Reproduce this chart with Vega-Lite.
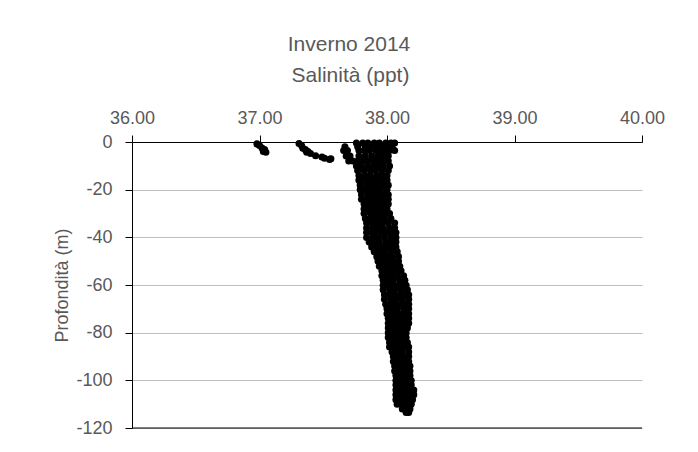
{
"$schema": "https://vega.github.io/schema/vega-lite/v6.json",
"width": 510, "height": 286,
"autosize": {"type": "none"},
"padding": {"left": 132, "top": 142, "right": 56, "bottom": 24},
"background": "white",
"config": {"view": {"stroke": null}, "font": "Liberation Sans, Arial, sans-serif"},
"title": {"text": "Inverno 2014", "fontSize": 21, "fontWeight": "normal", "color": "#595959", "anchor": "middle", "dx": -38, "offset": -8, "baseline": "alphabetic"},
"data": {"values": [
{"sal":36.98,"depth":-0.8},{"sal":37.00,"depth":-1.5},{"sal":37.02,"depth":-2.5},{"sal":37.04,"depth":-3.2},{"sal":37.05,"depth":-4.3},{"sal":37.03,"depth":-4.0},
{"sal":37.31,"depth":-0.6},{"sal":37.33,"depth":-1.5},{"sal":37.34,"depth":-2.6},{"sal":37.36,"depth":-3.2},{"sal":37.38,"depth":-4.0},{"sal":37.40,"depth":-4.8},{"sal":37.37,"depth":-4.3},{"sal":37.44,"depth":-5.8},{"sal":37.49,"depth":-6.3},{"sal":37.51,"depth":-6.8},{"sal":37.55,"depth":-7.3},{"sal":37.56,"depth":-7.0},
{"sal":37.76,"depth":-0.4},{"sal":37.81,"depth":-0.4},{"sal":37.85,"depth":-0.4},{"sal":37.90,"depth":-0.4},{"sal":37.94,"depth":-0.4},{"sal":37.99,"depth":-0.4},{"sal":38.03,"depth":-0.4},{"sal":38.06,"depth":-0.4},
{"sal":37.67,"depth":-2.0},{"sal":37.77,"depth":-2.0},{"sal":37.83,"depth":-2.0},{"sal":37.87,"depth":-2.0},{"sal":37.92,"depth":-2.0},{"sal":37.96,"depth":-2.0},{"sal":38.01,"depth":-2.0},{"sal":38.04,"depth":-2.0},
{"sal":37.66,"depth":-3.6},{"sal":37.69,"depth":-3.6},{"sal":37.78,"depth":-3.6},{"sal":37.82,"depth":-3.6},{"sal":37.86,"depth":-3.6},{"sal":37.91,"depth":-3.6},{"sal":37.95,"depth":-3.6},{"sal":37.99,"depth":-3.6},{"sal":38.02,"depth":-3.6},{"sal":38.06,"depth":-3.6},
{"sal":37.68,"depth":-5.9},{"sal":37.71,"depth":-5.9},{"sal":37.78,"depth":-5.9},{"sal":37.83,"depth":-5.9},{"sal":37.88,"depth":-5.9},{"sal":37.93,"depth":-5.9},{"sal":37.97,"depth":-5.9},{"sal":38.01,"depth":-5.9},
{"sal":37.70,"depth":-8.0},{"sal":37.73,"depth":-8.0},{"sal":37.77,"depth":-8.0},{"sal":37.81,"depth":-8.0},{"sal":37.85,"depth":-8.0},{"sal":37.90,"depth":-8.0},{"sal":37.94,"depth":-8.0},{"sal":37.98,"depth":-8.0},{"sal":38.01,"depth":-8.0},
{"sal":37.76,"depth":-10.1},{"sal":37.80,"depth":-10.1},{"sal":37.85,"depth":-10.1},{"sal":37.89,"depth":-10.1},{"sal":37.93,"depth":-10.1},{"sal":37.97,"depth":-10.1},{"sal":38.02,"depth":-10.1},
{"sal":37.77,"depth":-12.0},{"sal":37.82,"depth":-12.0},{"sal":37.87,"depth":-12.0},{"sal":37.91,"depth":-12.0},{"sal":37.96,"depth":-12.0},{"sal":38.01,"depth":-12.0},
{"sal":37.78,"depth":-14.1},{"sal":37.83,"depth":-14.1},{"sal":37.87,"depth":-14.1},{"sal":37.92,"depth":-14.1},{"sal":37.96,"depth":-14.1},{"sal":38.00,"depth":-14.1},
{"sal":37.78,"depth":-16.0},{"sal":37.82,"depth":-16.0},{"sal":37.86,"depth":-16.0},{"sal":37.90,"depth":-16.0},{"sal":37.94,"depth":-16.0},{"sal":37.98,"depth":-16.0},{"sal":38.00,"depth":-16.0},
{"sal":37.79,"depth":-18.1},{"sal":37.84,"depth":-18.1},{"sal":37.88,"depth":-18.1},{"sal":37.93,"depth":-18.1},{"sal":37.97,"depth":-18.1},{"sal":38.01,"depth":-18.1},
{"sal":37.79,"depth":-20.0},{"sal":37.83,"depth":-20.0},{"sal":37.87,"depth":-20.0},{"sal":37.91,"depth":-20.0},{"sal":37.95,"depth":-20.0},{"sal":38.00,"depth":-20.0},
{"sal":37.80,"depth":-22.1},{"sal":37.85,"depth":-22.1},{"sal":37.89,"depth":-22.1},{"sal":37.93,"depth":-22.1},{"sal":37.97,"depth":-22.1},{"sal":38.01,"depth":-22.1},
{"sal":37.80,"depth":-24.0},{"sal":37.84,"depth":-24.0},{"sal":37.88,"depth":-24.0},{"sal":37.92,"depth":-24.0},{"sal":37.96,"depth":-24.0},{"sal":38.01,"depth":-24.0},
{"sal":37.82,"depth":-26.0},{"sal":37.86,"depth":-26.0},{"sal":37.90,"depth":-26.0},{"sal":37.94,"depth":-26.0},{"sal":37.98,"depth":-26.0},{"sal":38.01,"depth":-26.0},
{"sal":37.82,"depth":-28.1},{"sal":37.86,"depth":-28.1},{"sal":37.89,"depth":-28.1},{"sal":37.93,"depth":-28.1},{"sal":37.96,"depth":-28.1},{"sal":38.00,"depth":-28.1},
{"sal":37.82,"depth":-30.0},{"sal":37.87,"depth":-30.0},{"sal":37.91,"depth":-30.0},{"sal":37.95,"depth":-30.0},{"sal":37.99,"depth":-30.0},{"sal":38.02,"depth":-30.0},
{"sal":37.83,"depth":-32.1},{"sal":37.87,"depth":-32.1},{"sal":37.90,"depth":-32.1},{"sal":37.94,"depth":-32.1},{"sal":37.98,"depth":-32.1},{"sal":38.03,"depth":-32.1},
{"sal":37.84,"depth":-34.0},{"sal":37.88,"depth":-34.0},{"sal":37.92,"depth":-34.0},{"sal":37.96,"depth":-34.0},{"sal":38.01,"depth":-34.0},{"sal":38.06,"depth":-34.0},
{"sal":37.84,"depth":-36.1},{"sal":37.89,"depth":-36.1},{"sal":37.93,"depth":-36.1},{"sal":37.97,"depth":-36.1},{"sal":38.02,"depth":-36.1},{"sal":38.06,"depth":-36.1},
{"sal":37.84,"depth":-38.0},{"sal":37.88,"depth":-38.0},{"sal":37.91,"depth":-38.0},{"sal":37.96,"depth":-38.0},{"sal":38.00,"depth":-38.0},{"sal":38.04,"depth":-38.0},{"sal":38.07,"depth":-38.0},
{"sal":37.84,"depth":-40.1},{"sal":37.89,"depth":-40.1},{"sal":37.93,"depth":-40.1},{"sal":37.98,"depth":-40.1},{"sal":38.03,"depth":-40.1},{"sal":38.07,"depth":-40.1},
{"sal":37.86,"depth":-42.0},{"sal":37.90,"depth":-42.0},{"sal":37.94,"depth":-42.0},{"sal":37.99,"depth":-42.0},{"sal":38.03,"depth":-42.0},{"sal":38.07,"depth":-42.0},
{"sal":37.88,"depth":-44.1},{"sal":37.92,"depth":-44.1},{"sal":37.96,"depth":-44.1},{"sal":38.00,"depth":-44.1},{"sal":38.04,"depth":-44.1},{"sal":38.07,"depth":-44.1},
{"sal":37.90,"depth":-46.0},{"sal":37.94,"depth":-46.0},{"sal":37.98,"depth":-46.0},{"sal":38.03,"depth":-46.0},{"sal":38.08,"depth":-46.0},
{"sal":37.92,"depth":-48.1},{"sal":37.96,"depth":-48.1},{"sal":38.00,"depth":-48.1},{"sal":38.04,"depth":-48.1},{"sal":38.09,"depth":-48.1},
{"sal":37.93,"depth":-50.0},{"sal":37.97,"depth":-50.0},{"sal":38.01,"depth":-50.0},{"sal":38.05,"depth":-50.0},{"sal":38.09,"depth":-50.0},
{"sal":37.94,"depth":-52.1},{"sal":37.98,"depth":-52.1},{"sal":38.02,"depth":-52.1},{"sal":38.06,"depth":-52.1},{"sal":38.10,"depth":-52.1},
{"sal":37.96,"depth":-54.0},{"sal":38.00,"depth":-54.0},{"sal":38.04,"depth":-54.0},{"sal":38.08,"depth":-54.0},{"sal":38.11,"depth":-54.0},
{"sal":37.96,"depth":-56.1},{"sal":38.00,"depth":-56.1},{"sal":38.04,"depth":-56.1},{"sal":38.08,"depth":-56.1},{"sal":38.13,"depth":-56.1},
{"sal":37.97,"depth":-58.0},{"sal":38.01,"depth":-58.0},{"sal":38.05,"depth":-58.0},{"sal":38.10,"depth":-58.0},{"sal":38.14,"depth":-58.0},
{"sal":37.97,"depth":-60.1},{"sal":38.01,"depth":-60.1},{"sal":38.05,"depth":-60.1},{"sal":38.09,"depth":-60.1},{"sal":38.13,"depth":-60.1},{"sal":38.15,"depth":-60.1},
{"sal":37.97,"depth":-62.0},{"sal":38.02,"depth":-62.0},{"sal":38.06,"depth":-62.0},{"sal":38.11,"depth":-62.0},{"sal":38.16,"depth":-62.0},
{"sal":37.98,"depth":-64.1},{"sal":38.02,"depth":-64.1},{"sal":38.06,"depth":-64.1},{"sal":38.10,"depth":-64.1},{"sal":38.14,"depth":-64.1},{"sal":38.17,"depth":-64.1},
{"sal":37.98,"depth":-66.0},{"sal":38.03,"depth":-66.0},{"sal":38.07,"depth":-66.0},{"sal":38.12,"depth":-66.0},{"sal":38.17,"depth":-66.0},
{"sal":37.99,"depth":-68.1},{"sal":38.03,"depth":-68.1},{"sal":38.07,"depth":-68.1},{"sal":38.11,"depth":-68.1},{"sal":38.15,"depth":-68.1},{"sal":38.17,"depth":-68.1},
{"sal":38.00,"depth":-70.0},{"sal":38.04,"depth":-70.0},{"sal":38.08,"depth":-70.0},{"sal":38.13,"depth":-70.0},{"sal":38.17,"depth":-70.0},
{"sal":38.00,"depth":-72.1},{"sal":38.04,"depth":-72.1},{"sal":38.08,"depth":-72.1},{"sal":38.12,"depth":-72.1},{"sal":38.15,"depth":-72.1},{"sal":38.17,"depth":-72.1},
{"sal":38.01,"depth":-74.0},{"sal":38.05,"depth":-74.0},{"sal":38.09,"depth":-74.0},{"sal":38.13,"depth":-74.0},{"sal":38.17,"depth":-74.0},
{"sal":38.01,"depth":-76.1},{"sal":38.05,"depth":-76.1},{"sal":38.09,"depth":-76.1},{"sal":38.13,"depth":-76.1},{"sal":38.17,"depth":-76.1},
{"sal":38.01,"depth":-78.0},{"sal":38.05,"depth":-78.0},{"sal":38.09,"depth":-78.0},{"sal":38.13,"depth":-78.0},{"sal":38.16,"depth":-78.0},
{"sal":38.01,"depth":-80.1},{"sal":38.05,"depth":-80.1},{"sal":38.09,"depth":-80.1},{"sal":38.12,"depth":-80.1},{"sal":38.15,"depth":-80.1},
{"sal":38.01,"depth":-82.0},{"sal":38.05,"depth":-82.0},{"sal":38.09,"depth":-82.0},{"sal":38.13,"depth":-82.0},{"sal":38.15,"depth":-82.0},
{"sal":38.02,"depth":-84.1},{"sal":38.06,"depth":-84.1},{"sal":38.10,"depth":-84.1},{"sal":38.14,"depth":-84.1},{"sal":38.16,"depth":-84.1},
{"sal":38.02,"depth":-86.0},{"sal":38.06,"depth":-86.0},{"sal":38.10,"depth":-86.0},{"sal":38.14,"depth":-86.0},{"sal":38.17,"depth":-86.0},
{"sal":38.04,"depth":-88.1},{"sal":38.08,"depth":-88.1},{"sal":38.12,"depth":-88.1},{"sal":38.17,"depth":-88.1},
{"sal":38.05,"depth":-90.0},{"sal":38.09,"depth":-90.0},{"sal":38.13,"depth":-90.0},{"sal":38.17,"depth":-90.0},
{"sal":38.05,"depth":-92.1},{"sal":38.09,"depth":-92.1},{"sal":38.13,"depth":-92.1},{"sal":38.17,"depth":-92.1},
{"sal":38.06,"depth":-94.0},{"sal":38.10,"depth":-94.0},{"sal":38.14,"depth":-94.0},{"sal":38.18,"depth":-94.0},
{"sal":38.06,"depth":-96.1},{"sal":38.10,"depth":-96.1},{"sal":38.14,"depth":-96.1},{"sal":38.18,"depth":-96.1},
{"sal":38.07,"depth":-98.0},{"sal":38.11,"depth":-98.0},{"sal":38.15,"depth":-98.0},{"sal":38.18,"depth":-98.0},
{"sal":38.07,"depth":-100.1},{"sal":38.11,"depth":-100.1},{"sal":38.15,"depth":-100.1},{"sal":38.19,"depth":-100.1},
{"sal":38.07,"depth":-102.0},{"sal":38.11,"depth":-102.0},{"sal":38.15,"depth":-102.0},{"sal":38.19,"depth":-102.0},
{"sal":38.07,"depth":-104.1},{"sal":38.11,"depth":-104.1},{"sal":38.15,"depth":-104.1},{"sal":38.19,"depth":-104.1},{"sal":38.21,"depth":-104.1},
{"sal":38.07,"depth":-106.0},{"sal":38.11,"depth":-106.0},{"sal":38.15,"depth":-106.0},{"sal":38.19,"depth":-106.0},{"sal":38.21,"depth":-106.0},
{"sal":38.07,"depth":-108.1},{"sal":38.11,"depth":-108.1},{"sal":38.15,"depth":-108.1},{"sal":38.19,"depth":-108.1},{"sal":38.20,"depth":-108.1},
{"sal":38.08,"depth":-110.0},{"sal":38.12,"depth":-110.0},{"sal":38.16,"depth":-110.0},{"sal":38.19,"depth":-110.0},
{"sal":38.12,"depth":-112.0},{"sal":38.15,"depth":-112.0},{"sal":38.18,"depth":-112.0},
{"sal":38.15,"depth":-113.5},{"sal":38.17,"depth":-113.5}
]},
"layer": [
{"mark": {"type": "circle", "size": 50, "color": "black", "opacity": 1},
 "encoding": {
  "x": {"field": "sal", "type": "quantitative",
        "scale": {"domain": [36, 40], "nice": false, "zero": false},
        "axis": {"orient": "top", "values": [36, 37, 38, 39, 40], "format": ".2f", "grid": false,
                 "domainColor": "black", "tickColor": "black", "tickSize": 7,
                 "labelFontSize": 18, "labelColor": "#595959", "labelPadding": 12, "labelBaseline": "alphabetic", "labelFlush": false,
                 "title": "Salinità (ppt)", "titleFontSize": 21, "titleFontWeight": "normal", "titleColor": "#595959",
                 "titleX": 218, "titleY": -61, "titleBaseline": "alphabetic", "titleAlign": "center"}},
  "y": {"field": "depth", "type": "quantitative",
        "scale": {"domain": [-120, 0], "nice": false},
        "axis": {"values": [0, -20, -40, -60, -80, -100, -120], "grid": true, "gridColor": "#bfbfbf",
                 "domainColor": "black", "tickColor": "black", "tickSize": 7,
                 "labelExpr": "datum.value == 0 ? '0' : '-' + format(-datum.value, 'd')",
                 "labelFontSize": 18, "labelColor": "#595959", "labelPadding": 13, "labelFlush": false,
                 "title": "Profondità (m)", "titleFontSize": 18, "titleFontWeight": "normal", "titleColor": "#595959",
                 "titleX": -65, "titleY": 143, "titleAngle": -90, "titleAlign": "center", "titleBaseline": "alphabetic"}}
 }},
{"data": {"values": [{}]},
 "mark": {"type": "rule", "color": "black", "strokeWidth": 1},
 "encoding": {"y": {"datum": -120}}}
]
}
